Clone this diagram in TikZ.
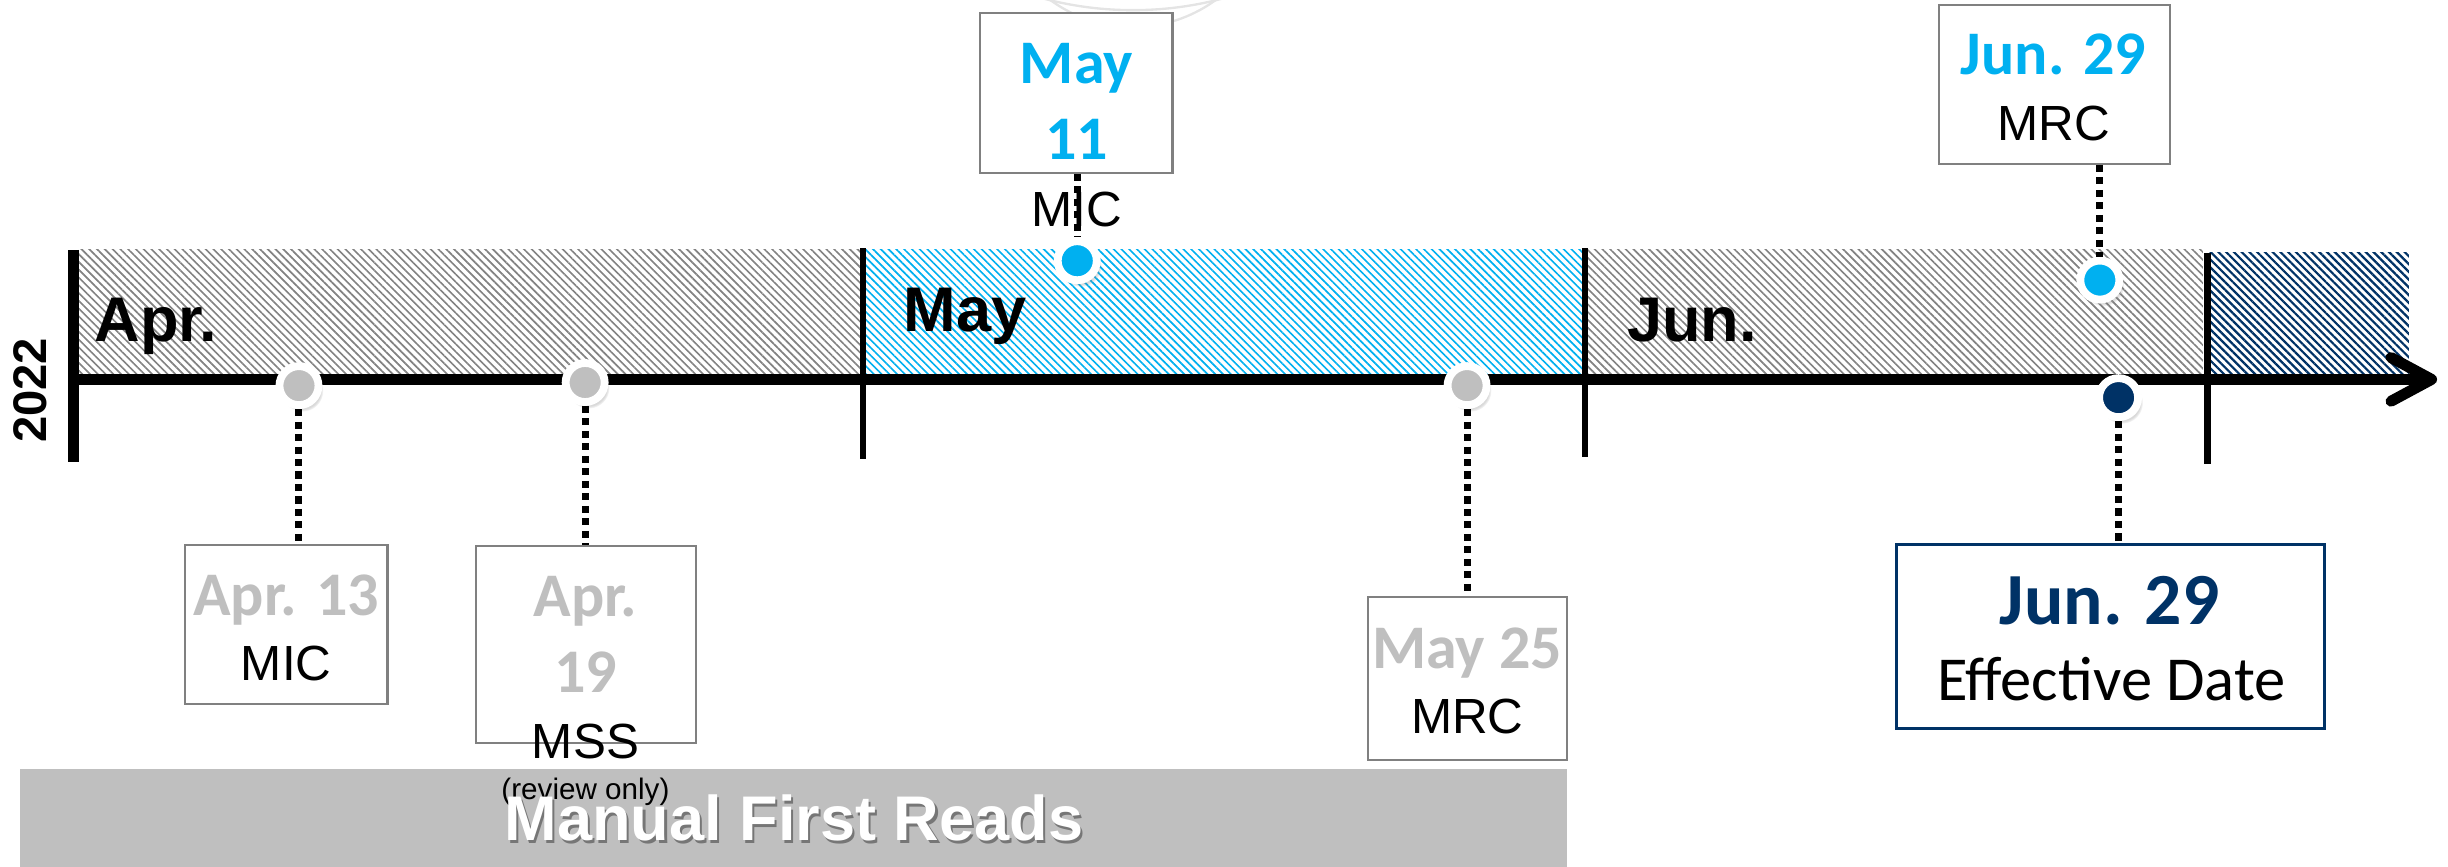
\documentclass[tikz,border=0pt]{standalone}
\usepackage{fontspec}
\setmainfont{Liberation Sans}
\newfontfamily\calibri{Carlito}
\usepackage{xcolor}
\usepackage{tikz}
\definecolor{skyblue}{RGB}{0, 176, 240}
\definecolor{navyblue}{RGB}{0, 50, 102}
\definecolor{dategray}{RGB}{191, 191, 191}
\definecolor{bargray}{RGB}{191, 191, 191}
\definecolor{hatchgray}{RGB}{130, 130, 130}
\definecolor{framegray}{RGB}{128, 128, 128}
\definecolor{shadowgray}{RGB}{118, 118, 118}
\definecolor{arcgray}{RGB}{228, 228, 228}
\usetikzlibrary{positioning, patterns.meta, shadows, arrows.meta}

\begin{document}
\begin{tikzpicture}[
    x=0.1mm, y=-0.1mm,
    datebox/.style={rectangle, draw=framegray, line width=0.13mm, fill=white, inner sep=0pt},
    milestone/.style={circle, fill=#1, draw=white, line width=0.5mm, minimum size=2.5mm, inner sep=0pt,
        circular drop shadow={shadow xshift=0.2mm, shadow yshift=-0.3mm, shadow scale=1.08, opacity=0.3}},
    leader/.style={line width=0.45mm, dash pattern=on 0.45mm off 0.35mm},
    tick/.style={line width=0.4mm},
    grayhatch/.style={pattern={Lines[angle=-45, distance=1pt, line width=0.3pt]}, pattern color=hatchgray},
    bluehatch/.style={pattern={Lines[angle=-45, distance=1pt, line width=0.3pt]}, pattern color=skyblue},
    navyhatch/.style={pattern={Lines[angle=-45, distance=1pt, line width=0.4pt]}, pattern color=navyblue},
    datetxt/.style={anchor=base, inner sep=0pt, font=\calibri\bfseries\fontsize{11.3pt}{13pt}\selectfont},
    evtxt/.style={anchor=base, inner sep=0pt, font=\fontsize{9pt}{11pt}\selectfont},
    month/.style={anchor=base west, inner sep=0pt, font=\bfseries\fontsize{11.5pt}{14pt}\selectfont}
]
    \useasboundingbox (0,0) rectangle (1568,554.7);

    % faint marks at the top
    \draw[arcgray, line width=0.15mm] (725.7,-217) circle[radius=223.5];
    \draw[arcgray, line width=0.15mm] (725.7,-72.4) circle[radius=89.7];

    % month bands
    \fill[grayhatch] (50,160) rectangle (553,243);
    \fill[bluehatch] (553,160) rectangle (1015,243);
    \fill[grayhatch] (1015,160) rectangle (1411,243);
    \fill[navyhatch] (1414,162) rectangle (1543,240);
    \fill[bargray] (12.9,492.6) rectangle (1003.7,560);

    % ticks and axis
    \draw[line width=0.7mm] (47,160) -- (47,296);
    \draw[tick] (553,159) -- (553,294);
    \draw[tick] (1015,159) -- (1015,293);
    \draw[tick] (1414,162) -- (1414,297);
    \draw[line width=0.7mm, -{Straight Barb[length=2.6mm, width=2.8mm, round]}] (47,243) -- (1561,243);

    % labels on the axis
    \node[rotate=90, inner sep=0pt, font=\bfseries\fontsize{8.6pt}{10pt}\selectfont] (year) at (19.5,250) {2022};
    \node[month] (apr) at (60,219) {Apr.};
    \node[month] (may) at (578,212.6) {May};
    \node[month] (jun) at (1041.6,218.9) {Jun.};

    % milestones
    \node[milestone=dategray] (apr13dot) at (191.5,247) {};
    \node[milestone=dategray] (apr19dot) at (374.8,245) {};
    \node[milestone=dategray] (may25dot) at (939.7,247) {};
    \node[milestone=skyblue] (may11dot) at (690,167) {};
    \node[milestone=skyblue] (jun29dot) at (1345,179.4) {};
    \node[milestone=navyblue] (effdot) at (1357,254.7) {};

    % boxes
    \node[datebox, minimum width=12.98mm, minimum height=10.2mm] (apr13box) at (183.3,400) {};
    \node[datebox, minimum width=14.07mm, minimum height=12.6mm] (apr19box) at (375.35,413) {};
    \node[datebox, minimum width=12.77mm, minimum height=10.42mm] (may25box) at (939.85,434.7) {};
    \node[datebox, minimum width=12.3mm, minimum height=10.21mm] (may11box) at (689.5,59.55) {};
    \node[datebox, minimum width=14.83mm, minimum height=10.18mm] (jun29box) at (1315.85,54.1) {};
    \node[datebox, draw=navyblue, line width=0.18mm, minimum width=27.39mm, minimum height=11.75mm] (effbox) at (1351.75,407.75) {};

    % leaders
    \draw[leader] (apr13dot) -- (apr13dot |- apr13box.north);
    \draw[leader] (apr19dot) -- (apr19dot |- apr19box.north);
    \draw[leader] (may25dot) -- (may25dot |- may25box.north);
    \draw[leader] (effdot) -- (effdot |- effbox.north);
    \draw[leader] (may11dot |- may11box.south) -- (may11dot);
    \draw[leader] (jun29dot |- jun29box.south) -- (jun29dot);

    % box texts
    \node[datetxt, dategray] (apr13date) at (183.3,394) {Apr. 13};
    \node[evtxt] (apr13ev) at (183.3,436) {MIC};
    \node[datetxt, dategray] (apr19date) at (375,394.7) {Apr.};
    \node[datetxt, dategray] (apr19day) at (375,443.5) {19};
    \node[evtxt] (apr19ev) at (375,485.7) {MSS};
    \node[anchor=base, inner sep=0pt, font=\fontsize{5.4pt}{6pt}\selectfont] (apr19note) at (375,512.4) {(review only)};
    \node[datetxt, dategray] (may25date) at (939.8,428) {May 25};
    \node[evtxt] (may25ev) at (939.8,469.7) {MRC};
    \node[datetxt, skyblue] (may11date) at (689.5,53.4) {May};
    \node[datetxt, skyblue] (may11day) at (689.5,102) {11};
    \node[evtxt] (may11ev) at (689.6,144.8) {MIC};
    \node[datetxt, skyblue] (jun29date) at (1315.3,48) {Jun. 29};
    \node[evtxt] (jun29ev) at (1315.5,90.1) {MRC};
    \node[datetxt, navyblue, font=\calibri\bfseries\fontsize{13.4pt}{15pt}\selectfont] (effdate) at (1351.2,400.3) {Jun. 29};
    \node[anchor=base, inner sep=0pt, font=\calibri\fontsize{11.4pt}{13pt}\selectfont] (effev) at (1352.4,448.8) {Effective Date};

    % bar title
    \node[anchor=base, inner sep=0pt, text=shadowgray, font=\bfseries\fontsize{11.5pt}{14pt}\selectfont] (readsshadow) at (510,540) {Manual First Reads};
    \node[anchor=base, inner sep=0pt, text=white, font=\bfseries\fontsize{11.5pt}{14pt}\selectfont] (reads) at (508.5,538.5) {Manual First Reads};
\end{tikzpicture}
\end{document}
